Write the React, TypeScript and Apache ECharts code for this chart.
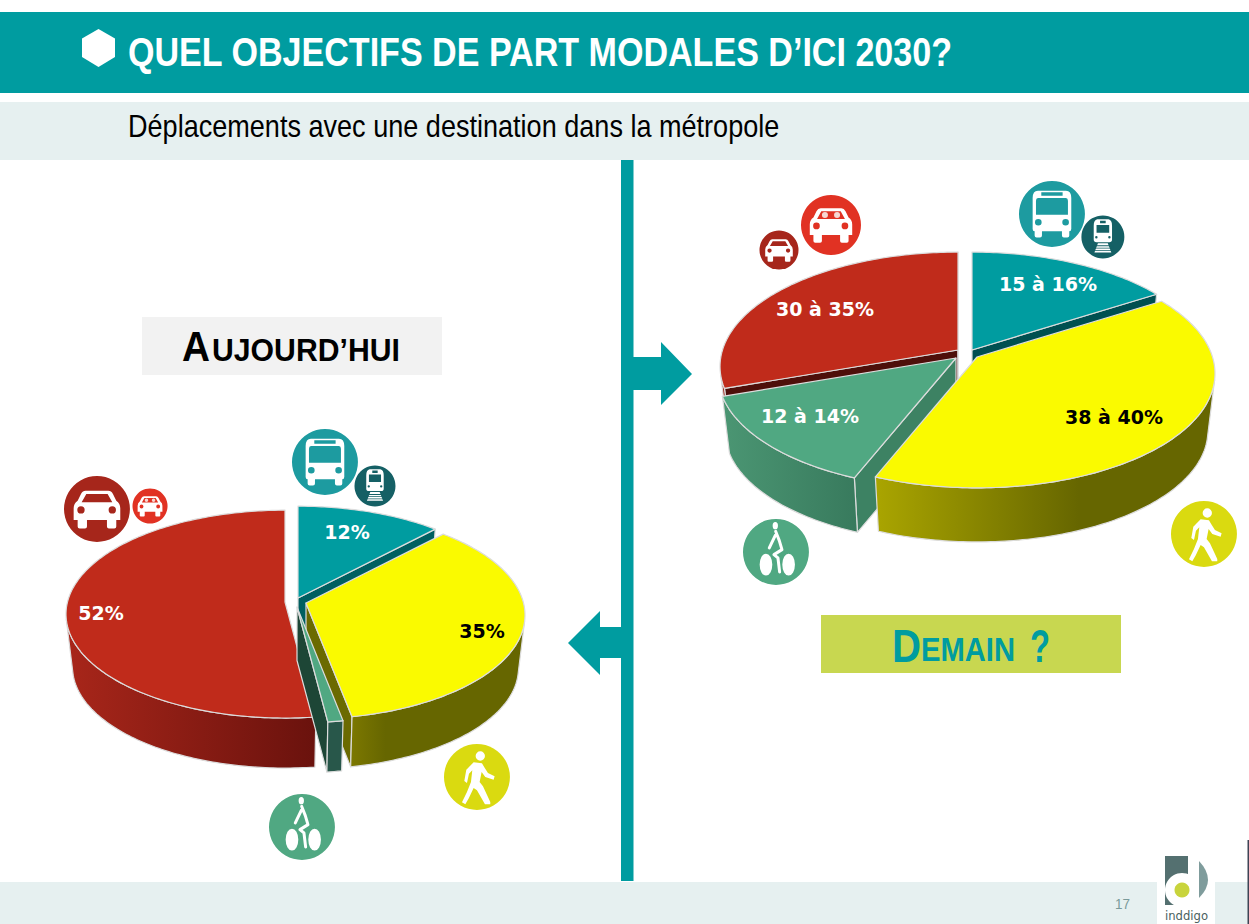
import React, { useEffect, useRef } from "react";
import * as echarts from "echarts";

// ---------- data ----------
const modes = ["Transports collectifs", "Marche", "Vélo", "Voiture"];
const todayValues = [12, 35, 1, 52];
const todayLabels = ["12%", "35%", "", "52%"];
const tomorrowValues = [16, 40.1, 13.6, 30.3];
const tomorrowLabels = ["15 à 16%", "38 à 40%", "12 à 14%", "30 à 35%"];

const titleText = "QUEL OBJECTIFS DE PART MODALES D’ICI 2030?";
const subtitleText = "Déplacements avec une destination dans la métropole";
const pageNumber = "17";
const logoText = "inddigo";

// ---------- layout and style ----------
const TEAL = "#009ca0";
const BAND = "#e6f0f0";
const FONT = "Liberation Sans";

type Look = {
  top: string; cut: string; wall: [number, string][]; label: string;
  apex: [number, number]; labelAt: [number, number];
};

const todayPie = {
  rx: 217.5, ry: 102.5, k: -0.1166, drop: 53.5, shrink: 0.97,
  order: [0, 3, 1, 2],
  looks: [
    { top: "#009ca0", cut: "#005f60", wall: [[0, "#007f82"], [1, "#005f60"]], label: "#fff", apex: [298, 598], labelAt: [347, 532] },
    { top: "#fafa00", cut: "#6b6a00", wall: [[0, "#7c7800"], [0.2, "#666600"], [1, "#666600"]], label: "#000", apex: [306, 603], labelAt: [482, 631] },
    { top: "#50a882", cut: "#1d4636", wall: [[0, "#28574a"], [1, "#28574a"]], label: "#fff", apex: [297, 607], labelAt: [0, 0] },
    { top: "#c02b1b", cut: "#6a120d", wall: [[0, "#a8261a"], [1, "#6a120d"]], label: "#fff", apex: [285, 602], labelAt: [101, 613] },
  ] as Look[],
};

const tomorrowPie = {
  rx: 235.5, ry: 112, k: -0.144, drop: 58, shrink: 0.97,
  order: [0, 3, 2, 1],
  looks: [
    { top: "#009ca0", cut: "#004f50", wall: [[0, "#007f82"], [1, "#005f60"]], label: "#fff", apex: [972, 350], labelAt: [1048, 284] },
    { top: "#fafa00", cut: "#6b6a00", wall: [[0, "#aaa500"], [0.6, "#666600"], [1, "#666600"]], label: "#000", apex: [977, 357], labelAt: [1114, 417] },
    { top: "#50a882", cut: "#3d8263", wall: [[0, "#4b9673"], [1, "#387a5d"]], label: "#fff", apex: [956, 358], labelAt: [810, 416] },
    { top: "#c02b1b", cut: "#4e0f0a", wall: [[0, "#a8261a"], [1, "#8a1c12"]], label: "#fff", apex: [958, 350], labelAt: [825, 309] },
  ] as Look[],
};

// ---------- glyphs, drawn in the coordinates of a reference circle ----------
const glyphPaths: Record<string, string> = {
  busBody: "M78 40H162Q178 40 178 62V155Q178 162 172 162V175Q172 181 166 181H156Q150 181 150 175V162H90V175Q90 181 84 181H74Q68 181 68 175V162Q62 162 62 155V62Q62 40 78 40Z",
  busCut: "M78 62H162Q168 62 168 70V112H72V70Q72 62 78 62ZM88 45H152V55H88ZM69 135A10 10 0 1 0 89 135A10 10 0 1 0 69 135ZM151 135A10 10 0 1 0 171 135A10 10 0 1 0 151 135Z",
  carBody: "M78 62H146Q155 62 160 72L170 92Q182 100 182 115V150H170V170Q170 176 164 176H148Q142 176 142 170V150H82V170Q82 176 76 176H60Q54 176 54 170V150H42V115Q42 100 54 92L64 72Q69 62 78 62Z",
  carCut: "M80 72H144L158 97H66ZM53 120A11 11 0 1 0 75 120A11 11 0 1 0 53 120ZM147 120A11 11 0 1 0 169 120A11 11 0 1 0 147 120Z",
  carPeople: "M82 84A10 10 0 1 0 102 84A10 10 0 1 0 82 84ZM122 84A10 10 0 1 0 142 84A10 10 0 1 0 122 84Z",
  trainBody: "M254 132H286Q296 134 296 150V190Q296 197 288 197H252Q244 197 244 190V150Q244 134 254 132ZM256 200H284L294 226H246Z",
  trainCut: "M252 148H288V170H252ZM262 136H278V143H262ZM248 183A3.5 3.5 0 1 0 255 183A3.5 3.5 0 1 0 248 183ZM285 183A3.5 3.5 0 1 0 292 183A3.5 3.5 0 1 0 285 183ZM240 206H300V208.5H240ZM240 212.5H300V215H240ZM240 219H300V221.5H240Z",
  walker: "M106 47A14 14 0 1 0 134 47A14 14 0 1 0 106 47ZM100 66L125 69L133 82L143 98L163 108L160 118L135 110L124 95L118 125L128 138L150 185L150 192L134 192L110 150L100 143L85 175L75 192L65 186L80 155L92 125L96 90L86 100L80 128L72 122L78 88Z",
  wheels: "M63 150A19 33 0 1 0 101 150A19 33 0 1 0 63 150ZM131 150A19 33 0 1 0 169 150A19 33 0 1 0 131 150ZM102 33A8 11 0 1 0 118 33A8 11 0 1 0 102 33Z",
  rider: "M111 50L122 78L130 105L106 120L118 130L123 172M110 62L92 100",
  logoD: "M1199 861Q1217 880 1199 898Z",
  hexagon: "M98.5 29L115 38.5V57L98.5 67L82 57V38.5Z",
};
Object.keys(glyphPaths).forEach((name) => {
  echarts.graphic.registerShape(name, echarts.graphic.extendPath(glyphPaths[name], {}));
});

function badge(cx: number, cy: number, r: number, bg: string, ox: number, oy: number, or: number, parts: any[]) {
  const s = r / or;
  return {
    type: "group", x: cx - ox * s, y: cy - oy * s, scaleX: s, scaleY: s, silent: true,
    children: [{ type: "circle", shape: { cx: ox, cy: oy, r: or }, style: { fill: bg } }, ...parts],
  };
}
const white = { fill: "#ffffff" };
const bus = (cx: number, cy: number, r: number) =>
  badge(cx, cy, r, "#1d9ba0", 120, 110, 99, [{ type: "busBody", style: white }, { type: "busCut", style: { fill: "#1d9ba0" } }]);
const train = (cx: number, cy: number, r: number) =>
  badge(cx, cy, r, "#156065", 270, 182, 61, [{ type: "trainBody", style: white }, { type: "trainCut", style: { fill: "#156065" } }]);
const car = (cx: number, cy: number, r: number, bg: string, people: boolean) =>
  badge(cx, cy, r, bg, 112, 117, 99, [
    { type: "carBody", style: white },
    { type: "carCut", style: { fill: bg } },
    ...(people ? [{ type: "carPeople", style: { fill: "#f6d8d2" } }] : []),
  ]);
const walker = (cx: number, cy: number, r: number) =>
  badge(cx, cy, r, "#dada10", 110, 110, 99, [{ type: "walker", style: white }]);
const cyclist = (cx: number, cy: number, r: number) =>
  badge(cx, cy, r, "#50a882", 112, 112, 99, [
    { type: "wheels", style: white },
    { type: "rider", style: { fill: "none", stroke: "#fff", lineWidth: 9, lineCap: "round", lineJoin: "round" } },
  ]);

// ---------- text helpers ----------
const measureCtx = document.createElement("canvas").getContext("2d") as CanvasRenderingContext2D;
function fit(text: string, x: number, y: number, size: number, bold: boolean, fill: string, width: number, family = FONT) {
  const weight = bold ? "bold" : "normal";
  measureCtx.font = `${weight} ${size}px "${family}"`;
  const natural = measureCtx.measureText(text).width || width;
  return {
    type: "text", x, y, scaleX: width / natural, silent: true,
    style: { text, fontFamily: family, fontSize: size, fontWeight: weight, fill, align: "left", verticalAlign: "bottom" },
  };
}
const rect = (x: number, y: number, width: number, height: number, fill: string) => ({
  type: "rect", shape: { x, y, width, height }, style: { fill }, silent: true,
});
const poly = (points: number[][], fill: string) => ({ type: "polygon", shape: { points }, style: { fill }, silent: true });

// ---------- perspective pie ----------
function pieSeries(pie: typeof todayPie, values: number[], labels: string[]) {
  const total = values.reduce((a, b) => a + b, 0);
  const starts: number[] = [];
  values.reduce((sum, v, i) => { starts[i] = sum; return sum + v; }, 0);
  const renderItem = (_p: any, api: any) => {
    const value = api.value(0) as number;
    const i = api.value(1) as number;
    const look = pie.looks[i];
    const [ax, ay] = look.apex;
    const a0 = (starts[i] / total) * 360;
    const a1 = ((starts[i] + value) / total) * 360;
    const project = (deg: number) => {
      const t = (deg * Math.PI) / 180;
      const u = Math.sin(t), v = -Math.cos(t), w = 1 + pie.k * v;
      return [ax + (pie.rx * u) / w, ay + (pie.ry * v) / w];
    };
    const below = (p: number[]) => [
      ax + pie.shrink * (p[0] - ax),
      ay + pie.shrink * (p[1] - ay) + pie.drop,
    ];
    const area = (q: number[][]) =>
      q.reduce((s, p, j) => {
        const n = q[(j + 1) % q.length];
        return s + p[0] * n[1] - n[0] * p[1];
      }, 0);
    const steps = Math.max(2, Math.ceil(a1 - a0));
    const arc: number[][] = [];
    for (let s = 0; s <= steps; s++) arc.push(project(a0 + ((a1 - a0) * s) / steps));
    const apex = [ax, ay];
    const edge = { stroke: "#dcdcdc", lineWidth: 1.2, lineJoin: "round" };
    const children: any[] = [];

    // outer wall: the stretch of rim that faces the viewer
    let first = -1, last = -1;
    for (let s = 0; s < steps; s++) {
      if (area([arc[s], arc[s + 1], below(arc[s + 1]), below(arc[s])]) < 0) {
        if (first < 0) first = s;
        last = s;
      }
    }
    const faces: any[][] = [
      [apex, arc[0], below(arc[0]), below(apex)],
      [arc[steps], apex, below(apex), below(arc[steps])],
    ];
    faces.forEach((f) => {
      if (area(f) < 0) {
        children.push({ type: "polygon", shape: { points: f }, style: { fill: look.cut, ...edge } });
      }
    });
    if (first >= 0) {
      const rim = arc.slice(first, last + 2);
      const pts = [...rim, ...rim.map(below).reverse()];
      children.push({
        type: "polygon",
        shape: { points: pts },
        style: {
          fill: new echarts.graphic.LinearGradient(0, 0, 1, 0, look.wall.map(([offset, color]) => ({ offset, color }))),
          ...edge,
        },
      });
    }
    // top face
    children.push({ type: "polygon", shape: { points: [apex, ...arc] }, style: { fill: look.top, ...edge } });
    if (labels[i]) {
      children.push({
        type: "text", x: look.labelAt[0], y: look.labelAt[1],
        style: {
          text: labels[i], fontFamily: "DejaVu Sans", fontSize: 19, fontWeight: "bold",
          fill: look.label, align: "center", verticalAlign: "middle",
        },
      });
    }
    return { type: "group", children };
  };
  return {
    type: "custom", coordinateSystem: "none", silent: true, clip: false, renderItem,
    data: pie.order.map((i) => ({ name: modes[i], value: [values[i], i] })),
  };
}

export default function App() {
  const ref = useRef<HTMLDivElement>(null);
  useEffect(() => {
    const chart = echarts.init(ref.current as HTMLDivElement, undefined, { renderer: "svg" });
    chart.setOption({
      animation: false,
      backgroundColor: "#ffffff",
      graphic: { elements: [
        rect(0, 12, 1249, 81, TEAL),
        rect(0, 102, 1249, 58, BAND),
        rect(0, 882, 1249, 42, BAND),
        { type: "hexagon", style: { fill: "#fff" }, silent: true },
        fit(titleText, 128, 72, 40, true, "#ffffff", 825),
        fit(subtitleText, 128, 142, 32, false, "#000000", 652),
        rect(621, 160, 12.5, 721, TEAL),
        poly([[633, 357], [661, 357], [661, 342], [692, 374], [661, 405], [661, 390], [633, 390]], TEAL),
        poly([[621, 627], [600, 627], [600, 611], [568, 643], [600, 675], [600, 658], [621, 658]], TEAL),
        rect(142, 317, 300, 58, "#f2f2f2"),
        fit("A", 182, 368, 43, true, "#000000", 28),
        fit("UJOURD’HUI", 212, 366, 32, true, "#000000", 188),
        rect(821, 615, 300, 58, "#c8d750"),
        fit("D", 892, 669, 46, true, TEAL, 29),
        fit("EMAIN", 921, 666, 34, true, TEAL, 94),
        fit("?", 1030, 669, 46, true, TEAL, 20),
        bus(325, 462, 33), train(375, 486, 20.5),
        car(97, 509, 33, "#a6261b", false), car(150, 506, 17.5, "#e13223", true),
        walker(477, 777, 33), cyclist(302, 827, 33),
        bus(1052, 214, 33), train(1103, 237, 21.5),
        car(831, 225, 30, "#e13223", true), car(779, 250, 19.5, "#a6261b", false),
        cyclist(776, 552, 33), walker(1204, 534, 33),
        rect(1157, 882, 58, 42, "#ffffff"),
        rect(1165, 856, 23, 49, "#547070"),
        { type: "circle", shape: { cx: 1182, cy: 890, r: 17 }, style: { fill: "#ffffff" }, silent: true },
        { type: "circle", shape: { cx: 1182, cy: 890, r: 7.5 }, style: { fill: "#c8d43c" }, silent: true },
        { type: "logoD", style: { fill: "#7f9c9c" }, silent: true },
        fit(logoText, 1165, 922, 13, false, "#4a5f5f", 43, "DejaVu Sans"),
        fit(pageNumber, 1115, 911, 15, false, "#7a9a9a", 15),
        rect(1247.5, 840, 1.5, 84, "#3f4455"),
      ] },
      series: [
        pieSeries(todayPie, todayValues, todayLabels),
        pieSeries(tomorrowPie, tomorrowValues, tomorrowLabels),
      ],
    });
    return () => chart.dispose();
  }, []);
  return <div ref={ref} style={{ position: "absolute", left: 0, top: 0, width: 1249, height: 924 }} />;
}
